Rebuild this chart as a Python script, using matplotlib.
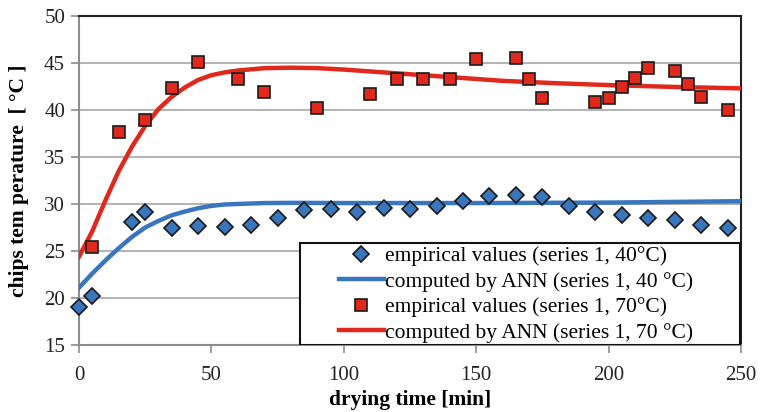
import numpy as np
import matplotlib.pyplot as plt
from matplotlib.patches import Rectangle

# empirical values, series 1, 40 C
t_emp40 = [0, 5, 20, 25, 35, 45, 55, 65, 75, 85, 95, 105, 115, 125,
           135, 145, 155, 165, 175, 185, 195, 205, 215, 225, 235, 245]
T_emp40 = [19.0, 20.2, 28.1, 29.1, 27.5, 27.7, 27.6, 27.8, 28.5, 29.4, 29.5, 29.2, 29.6, 29.5,
           29.8, 30.3, 30.9, 31.0, 30.7, 29.8, 29.1, 28.8, 28.5, 28.3, 27.8, 27.4]

# empirical values, series 1, 70 C
t_emp70 = [5, 15, 25, 35, 45, 60, 70, 90, 110, 120, 130, 140, 150, 165,
           170, 175, 195, 200, 205, 210, 215, 225, 230, 235, 245]
T_emp70 = [25.4, 37.7, 38.9, 42.3, 45.1, 43.3, 41.9, 40.2, 41.7, 43.3, 43.3, 43.3, 45.4, 45.5,
           43.3, 41.3, 40.8, 41.3, 42.4, 43.4, 44.5, 44.1, 42.8, 41.4, 40.0]

# ANN output, series 1, 40 C
t_ann40 = [0, 5, 10, 15, 20, 25, 30, 35, 40, 45, 50, 55, 60, 70, 80, 100, 150, 200, 250]
T_ann40 = [21.1, 22.6, 24.0, 25.3, 26.5, 27.5, 28.2, 28.8, 29.2, 29.55, 29.8, 29.95, 30.0,
           30.1, 30.12, 30.1, 30.1, 30.15, 30.3]

# ANN output, series 1, 70 C
t_ann70 = [0, 5, 10, 15, 20, 25, 30, 35, 40, 45, 50, 55, 60, 70, 80, 90, 100,
           120, 140, 160, 180, 200, 225, 250]
T_ann70 = [24.4, 27.1, 30.4, 33.5, 36.1, 38.3, 40.1, 41.4, 42.4, 43.2, 43.7, 44.0, 44.2,
           44.45, 44.5, 44.45, 44.3, 43.9, 43.5, 43.1, 42.85, 42.65, 42.45, 42.3]

plt.rcParams['font.family'] = ['Liberation Serif', 'DejaVu Serif']

fig = plt.figure(figsize=(7.64, 4.12), dpi=100)
ax = fig.add_axes([0.1034, 0.1626, 0.8666, 0.7986])

blue = '#3a76bd'
red = '#e0281c'

ax.plot(t_emp40, T_emp40, 'D', ms=8, color=blue, mec='#1a1a1a', mew=1.2,
        label='empirical values (series 1, 40\u00b0C)', zorder=4, clip_on=False)
ax.plot(t_ann40, T_ann40, '-', lw=3.2, color=blue,
        label='computed by ANN (series 1, 40 \u00b0C)', zorder=3)
ax.plot(t_emp70, T_emp70, 's', ms=9, color=red, mec='#1a1a1a', mew=1.2,
        label='empirical values (series 1, 70\u00b0C)', zorder=4, clip_on=False)
ax.plot(t_ann70, T_ann70, '-', lw=3.2, color=red,
        label='computed by ANN (series 1, 70 \u00b0C)', zorder=3)

ax.set_xlim(0, 250)
ax.set_ylim(15, 50)
ax.set_xticks(np.arange(0, 251, 50))
ax.set_yticks(np.arange(15, 51, 5))
ax.yaxis.grid(True, color='#a6a6a6', lw=1.2)
ax.set_axisbelow(True)

for side in ['left', 'bottom']:
    ax.spines[side].set_color('#8c8c8c')
    ax.spines[side].set_linewidth(1.5)
for side in ['top', 'right']:
    ax.spines[side].set_color('#222222')
    ax.spines[side].set_linewidth(1.5)

ax.tick_params(axis='both', colors='#8c8c8c', labelcolor='#222222',
               labelsize=15, length=6, width=1.2)
ax.tick_params(axis='x', pad=9)
ax.tick_params(axis='y', pad=4)

ax.set_xlabel('drying time [min]', fontsize=15.5, fontweight='bold', labelpad=4)
ax.set_ylabel('chips tem perature  [ \u00b0C ]', fontsize=15.5, fontweight='bold', labelpad=11)

# legend box drawn as its own frame, legend entries placed inside it
box = Rectangle((0.334, 0.0), 0.664, 0.31, transform=ax.transAxes,
                facecolor='white', edgecolor='#111111', lw=1.5, zorder=5)
ax.add_patch(box)
leg = ax.legend(loc='center left', bbox_to_anchor=(0.392, 0.154), borderaxespad=0,
                fontsize=15.5, frameon=False, handlelength=2.1, handletextpad=0.05,
                labelspacing=0.25, borderpad=0)
leg.set_zorder(6)

fig.savefig('out.png', dpi=100)
